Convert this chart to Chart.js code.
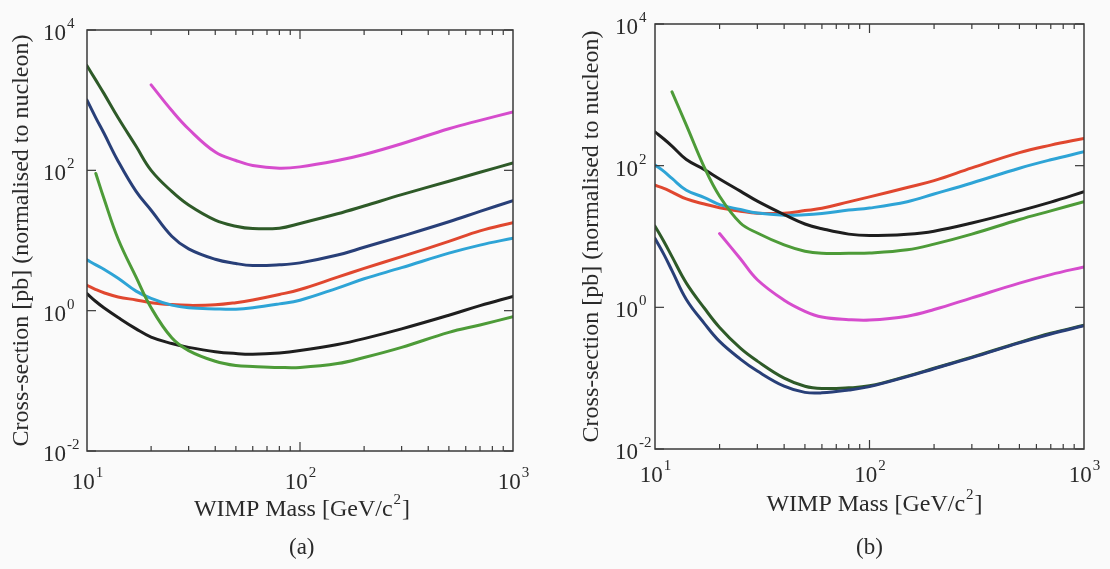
<!DOCTYPE html>
<html>
<head>
<meta charset="utf-8">
<title>WIMP cross-section limits</title>
<script src="https://cdn.jsdelivr.net/npm/chart.js@4.4.1/dist/chart.umd.min.js"></script>
<style>
  html, body { margin: 0; padding: 0; background: #fafafa; }
  #wrap { position: relative; width: 1110px; height: 569px; overflow: hidden; }
  .panel { position: absolute; top: 0; width: 555px; height: 569px; }
  #pa { left: 0; }
  #pb { left: 555px; }
  canvas { display: block; }
  .cap { position: absolute; top: 534px; font: 23px 'Liberation Serif', 'DejaVu Serif', serif; color: #2a2a2a; }
</style>
</head>
<body>
<div id="wrap">
  <div class="panel" id="pa"><canvas id="chartA" width="555" height="569"></canvas></div>
  <div class="panel" id="pb"><canvas id="chartB" width="555" height="569"></canvas></div>
  <div class="cap" style="left:289px">(a)</div>
  <div class="cap" style="left:856px">(b)</div>
</div>
<script>
// WIMP mass grid [GeV/c^2]
const masses = [10, 11, 12, 14, 17, 20, 25, 30, 40, 50, 60, 80, 100, 150, 200, 300, 500, 700, 1000];

// panel (a), cross-section in pb
const aMagenta   = [null, null, null, null, null, 1650, 711, 388, 182, 138, 117, 107, 112, 138, 168, 239, 392, 516, 680];
const aDarkGreen = [3100, 1930, 1250, 560, 220, 100, 50, 32, 19.5, 16, 14.8, 15, 17.5, 24, 31, 45, 70, 94, 127];
const aNavy      = [1000, 560, 340, 135, 50, 27, 11.5, 7.6, 5.4, 4.7, 4.4, 4.5, 4.8, 6.2, 8, 11.5, 18.5, 26, 37];
const aRed       = [2.3, 2.0, 1.8, 1.57, 1.42, 1.3, 1.22, 1.19, 1.21, 1.3, 1.42, 1.7, 2.0, 3.0, 4.0, 5.9, 9.7, 13.7, 18];
const aCyan      = [5.3, 4.5, 3.9, 2.9, 1.9, 1.5, 1.2, 1.1, 1.06, 1.05, 1.1, 1.25, 1.41, 2.1, 2.85, 4.1, 6.6, 8.6, 10.8];
const aBlack     = [1.75, 1.35, 1.1, 0.8, 0.55, 0.42, 0.34, 0.30, 0.26, 0.245, 0.24, 0.25, 0.27, 0.33, 0.40, 0.55, 0.86, 1.18, 1.6];
const aLightGreen= [null, 90, 40, 10.5, 3.0, 1.1, 0.41, 0.27, 0.19, 0.165, 0.16, 0.155, 0.155, 0.176, 0.215, 0.30, 0.49, 0.625, 0.82];

// panel (b)
const bBlack     = [300, 238, 189, 122, 88, 65, 43.7, 31.6, 20.4, 15, 12.9, 10.8, 10.3, 10.8, 11.9, 15.5, 23, 30.6, 42.8];
const bCyan      = [102, 83, 66, 45, 35.5, 28.2, 24, 21.4, 20, 20.3, 21.2, 23.6, 25.2, 31, 39.8, 57, 92, 121, 157];
const bRed       = [53, 47.9, 42.4, 33.9, 28.7, 25.5, 22.8, 21.3, 21.3, 23.2, 25, 30.8, 36.3, 49.2, 61.4, 93, 153, 195, 243];
const bLightGreen= [null, null, 1100, 374, 94, 37, 15.5, 11.2, 7.6, 6.2, 5.8, 5.8, 5.85, 6.5, 7.8, 10.8, 17.4, 23, 31];
const bMagenta   = [null, null, null, null, null, 11, 4.85, 2.45, 1.26, 0.88, 0.73, 0.67, 0.66, 0.75, 0.93, 1.36, 2.2, 2.9, 3.73];
const bNavy      = [9.4, 5.6, 3.3, 1.29, 0.59, 0.33, 0.186, 0.126, 0.077, 0.063, 0.062, 0.068, 0.076, 0.105, 0.136, 0.195, 0.315, 0.42, 0.55];
const bDarkGreen = [14, 8.5, 5.2, 2.2, 0.97, 0.52, 0.265, 0.174, 0.1, 0.077, 0.0715, 0.073, 0.078, 0.107, 0.138, 0.198, 0.32, 0.43, 0.56];

// axes
const xMajor = [10, 100, 1000];
const xExp = ['1', '2', '3'];
const xMinor = [20, 30, 40, 50, 60, 70, 80, 90, 200, 300, 400, 500, 600, 700, 800, 900];
const yMajor = [0.01, 1, 100, 10000];
const yExp = ['-2', '0', '2', '4'];
const xTitle = ['WIMP Mass [GeV/c', '2', ']'];
const yTitle = 'Cross-section [pb] (normalised to nucleon)';

const colors = {
  magenta: '#d64ccd',
  darkGreen: '#2e5a28',
  navy: '#283f78',
  red: '#e0472f',
  cyan: '#2ea4d6',
  black: '#1e1e1e',
  lightGreen: '#4d9b38',
};

const FONT = "'Liberation Serif', 'DejaVu Serif', serif";
const INK = '#2a2a2a';

function pts(vals) {
  const out = [];
  vals.forEach((v, i) => { if (v !== null) out.push({ x: masses[i], y: v }); });
  return out;
}

function line(vals, color) {
  return {
    data: pts(vals),
    borderColor: color,
    borderWidth: 3,
    pointRadius: 0,
    fill: false,
    tension: 0.4,
    borderJoinStyle: 'round',
    borderCapStyle: 'round',
  };
}

// "10" with a raised exponent
function drawPow(ctx, x, y, exp, align) {
  ctx.font = '23px ' + FONT;
  const wb = ctx.measureText('10').width;
  ctx.font = '15px ' + FONT;
  const we = ctx.measureText(exp).width;
  let start = align === 'center' ? x - (wb + we) / 2 : x;
  ctx.textAlign = 'left';
  ctx.textBaseline = 'middle';
  ctx.font = '23px ' + FONT;
  ctx.fillText('10', start, y);
  ctx.font = '15px ' + FONT;
  ctx.fillText(exp, start + wb + 1, y - 10);
}

const framePlugin = {
  id: 'frame',
  afterDraw(chart, args, o) {
    const { ctx, chartArea: a, scales: { x, y } } = chart;
    ctx.save();
    ctx.strokeStyle = '#3a3a3a';
    ctx.lineWidth = 1.5;
    ctx.strokeRect(a.left, a.top, a.right - a.left, a.bottom - a.top);

    ctx.lineWidth = 1.2;
    const seg = (x1, y1, x2, y2) => { ctx.beginPath(); ctx.moveTo(x1, y1); ctx.lineTo(x2, y2); ctx.stroke(); };
    xMinor.concat([100]).forEach(v => {
      const px = x.getPixelForValue(v);
      const len = v === 100 ? 9 : 5;
      seg(px, a.bottom, px, a.bottom - len);
      seg(px, a.top, px, a.top + len);
    });
    yMajor.forEach(v => {
      const py = y.getPixelForValue(v);
      seg(a.left, py, a.left + 9, py);
      seg(a.right, py, a.right - 9, py);
    });

    ctx.fillStyle = INK;
    xMajor.forEach((v, i) => drawPow(ctx, x.getPixelForValue(v), o.xLabelY, xExp[i], 'center'));
    yMajor.forEach((v, i) => drawPow(ctx, o.yLabelX, y.getPixelForValue(v) + 4, yExp[i], 'left'));

    // x title with superscript 2
    ctx.textBaseline = 'middle';
    ctx.textAlign = 'left';
    ctx.font = '24px ' + FONT;
    const w0 = ctx.measureText(xTitle[0]).width;
    const w2 = ctx.measureText(xTitle[2]).width;
    ctx.font = '15px ' + FONT;
    const w1 = ctx.measureText(xTitle[1]).width;
    let sx = (a.left + a.right) / 2 + o.xTitleShift - (w0 + w1 + w2 + 2) / 2;
    ctx.font = '24px ' + FONT;
    ctx.fillText(xTitle[0], sx, o.xTitleY);
    ctx.font = '15px ' + FONT;
    ctx.fillText(xTitle[1], sx + w0 + 1, o.xTitleY - 10);
    ctx.font = '24px ' + FONT;
    ctx.fillText(xTitle[2], sx + w0 + w1 + 2, o.xTitleY);

    // y title
    ctx.translate(o.yTitleX, (a.top + a.bottom) / 2);
    ctx.rotate(-Math.PI / 2);
    ctx.textAlign = 'center';
    ctx.fillText(yTitle, 0, 0);
    ctx.restore();
  }
};

function makePanel(id, datasets, pad, frame) {
  return new Chart(document.getElementById(id), {
    type: 'line',
    data: { datasets: datasets },
    options: {
      responsive: false,
      animation: false,
      devicePixelRatio: 1,
      layout: { padding: pad },
      plugins: { legend: { display: false }, tooltip: { enabled: false }, frame: frame },
      scales: {
        x: { type: 'logarithmic', min: 10, max: 1000, display: false },
        y: { type: 'logarithmic', min: 0.01, max: 10000, display: false },
      },
    },
    plugins: [framePlugin],
  });
}

makePanel('chartA', [
  line(aLightGreen, colors.lightGreen),
  line(aBlack, colors.black),
  line(aCyan, colors.cyan),
  line(aRed, colors.red),
  line(aNavy, colors.navy),
  line(aDarkGreen, colors.darkGreen),
  line(aMagenta, colors.magenta),
], { left: 87, right: 42, top: 30, bottom: 118 },
   { xLabelY: 483, yLabelX: 43, yTitleX: 22, xTitleY: 510, xTitleShift: 2 });

makePanel('chartB', [
  line(bNavy, colors.navy),
  line(bDarkGreen, colors.darkGreen),
  line(bMagenta, colors.magenta),
  line(bLightGreen, colors.lightGreen),
  line(bBlack, colors.black),
  line(bCyan, colors.cyan),
  line(bRed, colors.red),
], { left: 100, right: 26, top: 24, bottom: 120 },
   { xLabelY: 476, yLabelX: 60, yTitleX: 37, xTitleY: 505, xTitleShift: 5 });
</script>
</body>
</html>
